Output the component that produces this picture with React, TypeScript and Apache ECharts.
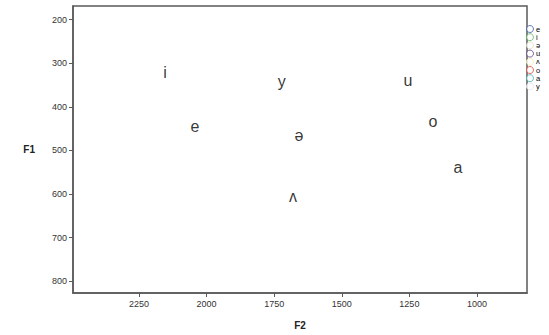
import React, { useEffect, useRef } from "react";
import * as echarts from "echarts";

const vowels = ["e", "i", "ə", "u", "ʌ", "o", "a", "y"];
const f2Values = [2043, 2154, 1658, 1255, 1680, 1163, 1070, 1722];
const f1Values = [446, 321, 466, 339, 606, 433, 540, 341];
const colors = ["#3f5aa8", "#5cb85c", "#e2dcc0", "#5b3f8c", "#f6eeb2", "#e0453f", "#3fb3b0", "#e4e4ea"];
const xTicks = [1000, 1250, 1500, 1750, 2000, 2250];
const yTicks = [200, 300, 400, 500, 600, 700, 800];

export default function App() {
  const ref = useRef<HTMLDivElement>(null);
  useEffect(() => {
    document.body.style.margin = "0";
    const chart = echarts.init(ref.current!, undefined, { renderer: "svg" });
    const font = "Liberation Sans, Arial, sans-serif";
    chart.setOption({
      animation: false,
      backgroundColor: "#ffffff",
      grid: {
        left: 73,
        right: 22,
        top: 6,
        bottom: 35,
        show: true,
        borderColor: "#5a5a5a",
        borderWidth: 1.5,
        backgroundColor: "#ffffff",
      },
      legend: {
        orient: "vertical",
        left: 526,
        top: 25,
        padding: 0,
        itemWidth: 8,
        itemHeight: 7,
        itemGap: 0.2,
        textStyle: { fontSize: 7.5, lineHeight: 8, color: "#000", fontFamily: font, padding: [0, 0, 0, -3] },
        data: vowels.map((v, i) => ({
          name: v,
          icon: "circle",
          itemStyle: { color: "#ffffff", borderColor: colors[i], borderWidth: 1 },
        })),
      },
      xAxis: {
        type: "value",
        inverse: true,
        min: 815,
        max: 2494,
        name: "F2",
        nameLocation: "middle",
        nameGap: 27,
        nameTextStyle: { fontSize: 10, fontWeight: "bold", color: "#222", fontFamily: font },
        axisLine: { show: true, lineStyle: { color: "#5a5a5a", width: 1.5 } },
        axisTick: { show: true, length: 4, customValues: xTicks, lineStyle: { color: "#5a5a5a" } },
        axisLabel: {
          customValues: xTicks,
          formatter: (v: number) => String(v),
          fontSize: 9,
          color: "#333",
          fontFamily: font,
          margin: 6,
        },
        splitLine: { show: false },
      },
      yAxis: {
        type: "value",
        inverse: true,
        min: 169,
        max: 827,
        name: "F1",
        nameLocation: "middle",
        nameGap: 38,
        nameRotate: 0,
        nameTextStyle: { fontSize: 10, fontWeight: "bold", color: "#222", fontFamily: font },
        axisLine: { show: true, lineStyle: { color: "#5a5a5a", width: 1.5 } },
        axisTick: { show: true, length: 4, customValues: yTicks, lineStyle: { color: "#5a5a5a" } },
        axisLabel: {
          customValues: yTicks,
          formatter: (v: number) => String(v),
          fontSize: 9,
          color: "#333",
          fontFamily: font,
          margin: 6,
        },
        splitLine: { show: false },
      },
      series: vowels.map((v, i) => ({
        name: v,
        type: "scatter",
        symbol: "circle",
        symbolSize: 0,
        itemStyle: { color: colors[i] },
        data: [[f2Values[i], f1Values[i]]],
        label: {
          show: true,
          position: "inside",
          formatter: v,
          fontSize: 16,
          color: "#000",
          fontFamily: font,
        },
      })),
    });
    return () => chart.dispose();
  }, []);
  return <div ref={ref} style={{ width: 549, height: 335 }} />;
}
